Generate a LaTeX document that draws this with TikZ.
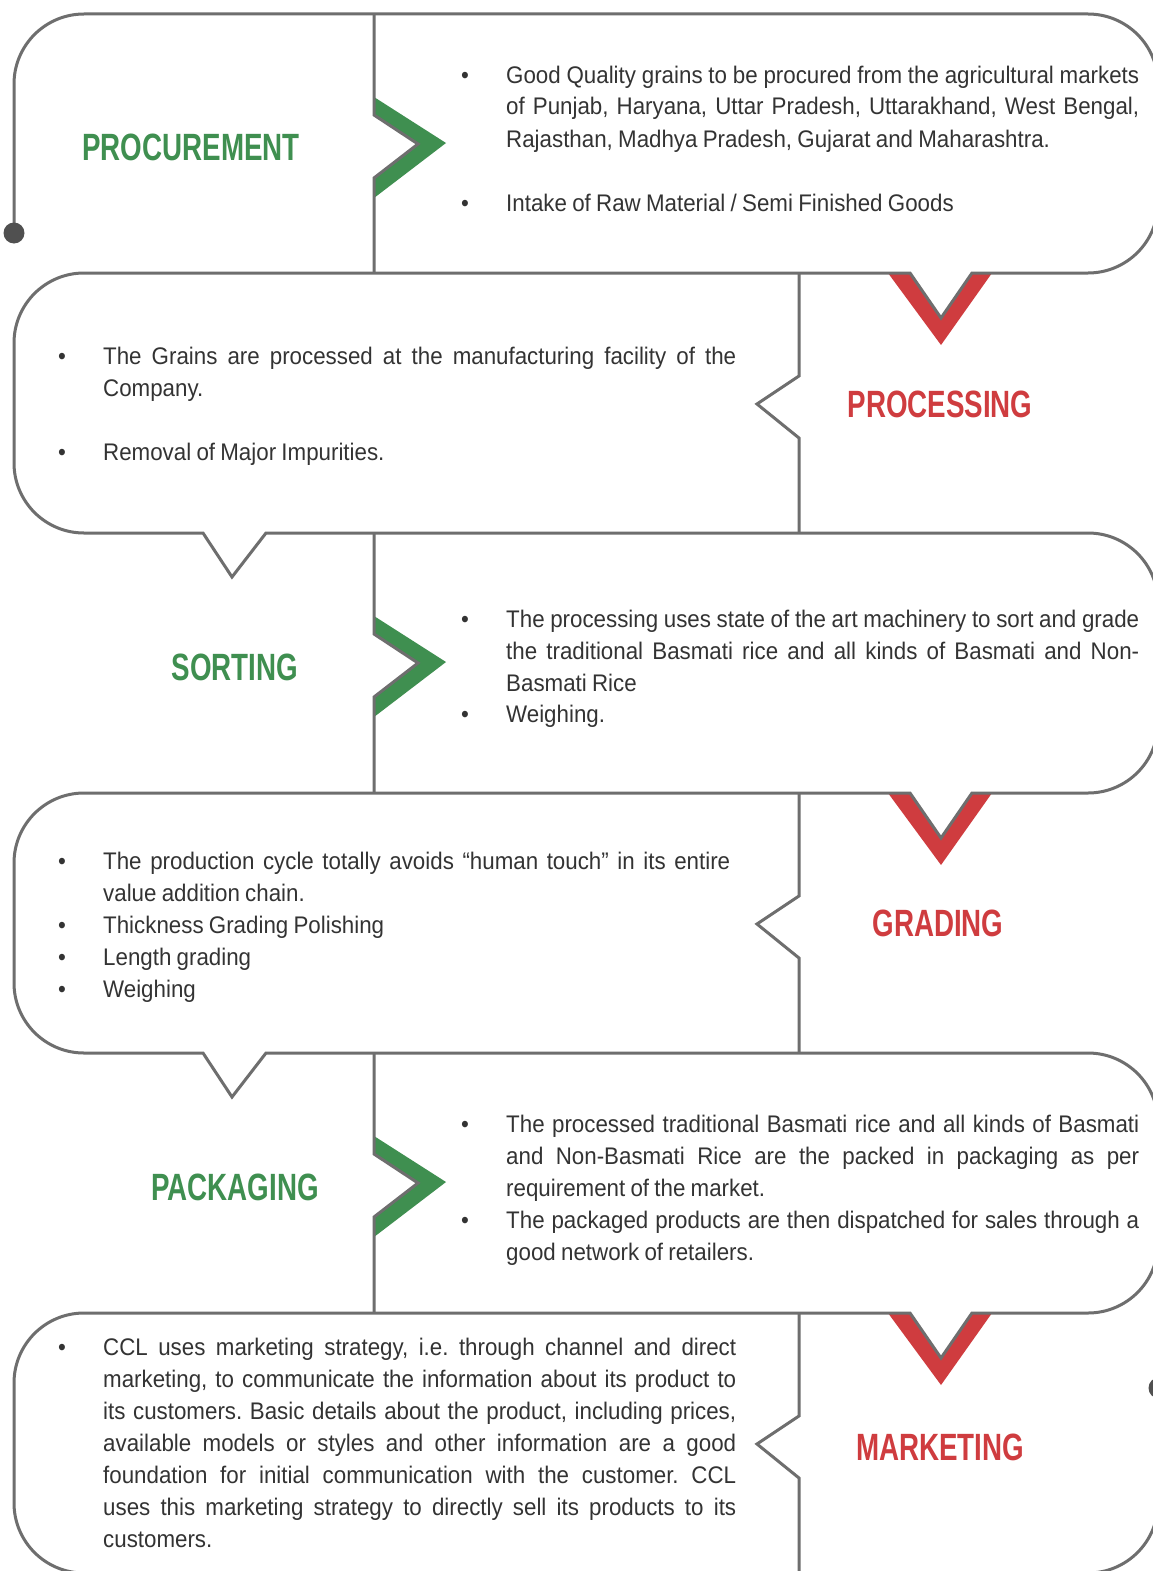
\documentclass[tikz,border=0pt]{standalone}
\usepackage{fontspec}
\setmainfont{Liberation Sans}[FakeStretch=0.93,WordSpace=0.85]
\newfontfamily\titlefont{Liberation Sans}[FakeStretch=0.73]
\definecolor{lineg}{HTML}{6E6E6E}
\definecolor{dotg}{HTML}{505050}
\definecolor{grn}{HTML}{3F8F50}
\definecolor{rd}{HTML}{CF3C3F}
\definecolor{txt}{HTML}{333333}
\newcommand\jline[1]{\makebox[633pt][s]{#1}}
\frenchspacing
\tikzset{
  ln/.style={draw=lineg, line width=3pt},
  bt/.style={anchor=base west, inner sep=0pt, text=txt, font=\fontsize{24}{32}\selectfont},
  bul/.style={anchor=base, inner sep=0pt, text=txt, font=\fontsize{24}{32}\selectfont},
  ttl/.style={anchor=base, inner sep=0pt, font=\titlefont\bfseries\fontsize{38}{40}\selectfont},
  gttl/.style={ttl, text=grn},
  rttl/.style={ttl, text=rd}
}
\begin{document}
\begin{tikzpicture}[x=1pt,y=-1pt]
\useasboundingbox (0,0) rectangle (1153,1571);
\fill[white] (0,0) rectangle (1153,1571);
\clip (0,0) rectangle (1153,1571);
% green chevrons
\fill[grn] (374,97) -- (446,143) -- (374,198) -- (374,178) -- (418,144) -- (374,115) -- cycle;
\fill[grn] (374,616) -- (446,662) -- (374,717) -- (374,697) -- (418,663) -- (374,634) -- cycle;
\fill[grn] (374,1136) -- (446,1182) -- (374,1237) -- (374,1217) -- (418,1183) -- (374,1154) -- cycle;
% red chevrons
\fill[rd] (888,273) -- (941,345) -- (992,273) -- (972,273) -- (941,318) -- (910,273) -- cycle;
\fill[rd] (888,793) -- (941,865) -- (992,793) -- (972,793) -- (941,838) -- (910,793) -- cycle;
\fill[rd] (888,1313) -- (941,1385) -- (992,1313) -- (972,1313) -- (941,1358) -- (910,1313) -- cycle;
% serpentine outline
\draw[ln] (14,233) -- (14,84) arc[start angle=180,end angle=270,radius=70]
  -- (1088,14) arc[start angle=270,end angle=360,radius=70]
  -- (1158,203) arc[start angle=0,end angle=90,radius=70]
  -- (972,273) -- (941,318) -- (910,273)
  -- (84,273) arc[start angle=270,end angle=180,radius=70]
  -- (14,463) arc[start angle=180,end angle=90,radius=70]
  -- (203,533) -- (232,577) -- (266,533)
  -- (1088,533) arc[start angle=270,end angle=360,radius=70]
  -- (1158,723) arc[start angle=0,end angle=90,radius=70]
  -- (972,793) -- (941,838) -- (910,793)
  -- (84,793) arc[start angle=270,end angle=180,radius=70]
  -- (14,983) arc[start angle=180,end angle=90,radius=70]
  -- (203,1053) -- (232,1097) -- (266,1053)
  -- (1088,1053) arc[start angle=270,end angle=360,radius=70]
  -- (1158,1243) arc[start angle=0,end angle=90,radius=70]
  -- (972,1313) -- (941,1358) -- (910,1313)
  -- (84,1313) arc[start angle=270,end angle=180,radius=70]
  -- (14,1503) arc[start angle=180,end angle=90,radius=70]
  -- (1088,1573) arc[start angle=90,end angle=0,radius=70]
  -- (1158,1388);
\fill[dotg] (14,233) circle[radius=10.5];
\fill[dotg] (1159,1388) circle[radius=10.5];
% dividers
\draw[ln] (374,14) -- (374,115) -- (418,144) -- (374,178) -- (374,273);
\draw[ln] (374,533) -- (374,634) -- (418,663) -- (374,697) -- (374,793);
\draw[ln] (374,1053) -- (374,1154) -- (418,1183) -- (374,1217) -- (374,1313);
\draw[ln] (799,273) -- (799,376) -- (757,404) -- (799,438) -- (799,533);
\draw[ln] (799,793) -- (799,896) -- (757,924) -- (799,958) -- (799,1053);
\draw[ln] (799,1313) -- (799,1416) -- (757,1444) -- (799,1478) -- (799,1573);
% titles
\node[gttl] (procurement) at (191,160) {PROCUREMENT};
\node[rttl] (processing) at (940,417) {PROCESSING};
\node[gttl] (sorting) at (235,680) {SORTING};
\node[rttl] (grading) at (938,936) {GRADING};
\node[gttl] (packaging) at (235,1200) {PACKAGING};
\node[rttl] (marketing) at (940,1460) {MARKETING};
% row 1
\node[bul] (b1a) at (465,83) {•};
\node[bt] (t1a) at (506,83) {\parbox[t]{633pt}{\jline{Good Quality grains to be procured from the agricultural markets}\\\jline{of Punjab, Haryana, Uttar Pradesh, Uttarakhand, West Bengal,}\\Rajasthan, Madhya Pradesh, Gujarat and Maharashtra.}};
\node[bul] (b1b) at (465,211) {•};
\node[bt] (t1b) at (506,211) {Intake of Raw Material / Semi Finished Goods};
% row 2
\node[bul] (b2a) at (62,364) {•};
\node[bt] (t2a) at (103,364) {\parbox[t]{633pt}{\jline{The Grains are processed at the manufacturing facility of the}\\Company.}};
\node[bul] (b2b) at (62,460) {•};
\node[bt] (t2b) at (103,460) {Removal of Major Impurities.};
% row 3
\node[bul] (b3a) at (465,627) {•};
\node[bt] (t3a) at (506,627) {\parbox[t]{633pt}{\jline{The processing uses state of the art machinery to sort and grade}\\\jline{the traditional Basmati rice and all kinds of Basmati and Non-}\\Basmati Rice}};
\node[bul] (b3b) at (465,722) {•};
\node[bt] (t3b) at (506,722) {Weighing.};
% row 4
\node[bul] (b4a) at (62,869) {•};
\node[bt] (t4a) at (103,869) {\parbox[t]{633pt}{\makebox[627pt][s]{The production cycle totally avoids “human touch” in its entire}\\value addition chain.}};
\node[bul] (b4b) at (62,933) {•};
\node[bt] (t4b) at (103,933) {Thickness Grading Polishing};
\node[bul] (b4c) at (62,965) {•};
\node[bt] (t4c) at (103,965) {Length grading};
\node[bul] (b4d) at (62,997) {•};
\node[bt] (t4d) at (103,997) {Weighing};
% row 5
\node[bul] (b5a) at (465,1132) {•};
\node[bt] (t5a) at (506,1132) {\parbox[t]{633pt}{\jline{The processed traditional Basmati rice and all kinds of Basmati}\\\jline{and Non-Basmati Rice are the packed in packaging as per}\\requirement of the market.}};
\node[bul] (b5b) at (465,1228) {•};
\node[bt] (t5b) at (506,1228) {\parbox[t]{633pt}{\jline{The packaged products are then dispatched for sales through a}\\good network of retailers.}};
% row 6
\node[bul] (b6a) at (62,1355) {•};
\node[bt] (t6a) at (103,1355) {\parbox[t]{633pt}{\jline{CCL uses marketing strategy, i.e. through channel and direct}\\\jline{marketing, to communicate the information about its product to}\\\jline{its customers. Basic details about the product, including prices,}\\\jline{available models or styles and other information are a good}\\\jline{foundation for initial communication with the customer. CCL}\\\jline{uses this marketing strategy to directly sell its products to its}\\customers.}};
\end{tikzpicture}
\end{document}
